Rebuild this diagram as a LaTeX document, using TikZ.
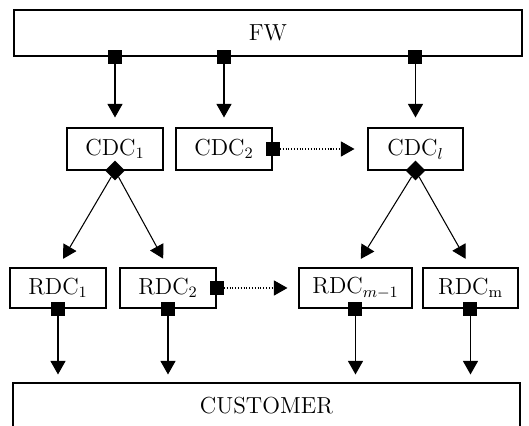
\documentclass[tikz,border=0pt]{standalone}
\usetikzlibrary{arrows.meta, shapes.geometric}

\begin{document}
\begin{tikzpicture}[%
        box/.style = {%
            draw,
            line width = 0.6pt,
            minimum height = 0.84cm,
            inner sep = 0pt,
            font = \fontsize{13.2}{16}\selectfont
        },
        port/.style = {fill = black, minimum size = 0.28cm, inner sep = 0pt},
        split/.style = {diamond, fill = black, minimum size = 0.40cm, inner sep = 0pt},
        flow/.style = {line width = 0.6pt, -{Triangle[length = 0.27cm, width = 0.3cm]}},
        info/.style = {flow, densely dotted}
    ]

        \useasboundingbox (0, 0) rectangle (10.58, 8.52);

        % The factory on top and the customer at the bottom.
        \node[box, minimum width = 10.16cm, minimum height = 0.92cm] (fw) at (5.36, 7.86) {FW};
        \node[box, minimum width = 10.14cm, minimum height = 0.90cm] (cust) at (5.33, 0.41) {CUSTOMER};

        % The central distribution centres.
        \node[box, minimum width = 1.92cm] (cdc1) at (2.30, 5.54) {CDC$_1$};
        \node[box, minimum width = 1.92cm] (cdc2) at (4.48, 5.54) {CDC$_2$};
        \node[box, minimum width = 1.90cm] (cdcl) at (8.31, 5.54) {CDC$_l$};

        % The regional distribution centres.
        \node[box, minimum width = 1.92cm, minimum height = 0.80cm] (rdc1) at (1.16, 2.76) {RDC$_1$};
        \node[box, minimum width = 1.92cm, minimum height = 0.80cm] (rdc2) at (3.36, 2.76) {RDC$_2$};
        \node[box, minimum width = 2.26cm, minimum height = 0.80cm] (rdcm1) at (7.11, 2.76) {RDC$_{m-1}$};
        \node[box, minimum width = 1.90cm, minimum height = 0.80cm] (rdcm) at (9.41, 2.76) {RDC$_\mathrm{m}$};

        % Shipments from the factory.
        \foreach\x in {cdc1, cdc2, cdcl}{%
            \node[port] (fw-\x) at (fw.south -| \x) {};
            \draw[flow, shorten > = 0.2cm] (fw-\x) -- (\x);
        }

        % Splits from the central to the regional centres.
        \node[split] (s1) at (cdc1.south) {};
        \node[split] (sl) at (cdcl.south) {};
        \draw[flow, shorten > = 0.2cm] (s1) -- (rdc1.north);
        \draw[flow, shorten > = 0.2cm] (s1) -- (rdc2.north);
        \draw[flow, shorten > = 0.2cm] (sl) -- (rdcm1.north);
        \draw[flow, shorten > = 0.2cm] (sl) -- (rdcm.north);

        % Dotted arrows for the omitted centres.
        \node[port] (cdc2-e) at (cdc2.east) {};
        \node[port] (rdc2-e) at (rdc2.east) {};
        \draw[info, shorten > = 0.26cm] (cdc2-e) -- (cdcl);
        \draw[info, shorten > = 0.22cm] (rdc2-e) -- (rdcm1);

        % Deliveries to the customer.
        \foreach\x in {rdc1, rdc2, rdcm1, rdcm}{%
            \node[port] (\x-s) at (\x.south) {};
            \draw[flow, shorten > = 0.16cm] (\x-s) -- (\x-s |- cust.north);
        }
    \end{tikzpicture}
\end{document}
